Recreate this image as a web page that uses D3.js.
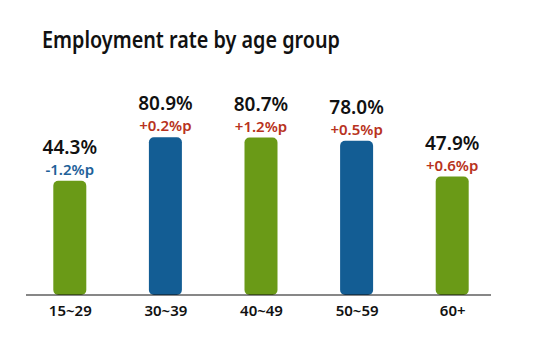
<!DOCTYPE html>
<html><head><meta charset="utf-8">
<script src="https://cdn.jsdelivr.net/npm/d3@7"></script>
<style>body{margin:0;background:#fff}svg{display:block}</style>
</head><body>
<svg id="c" width="540" height="350"></svg>
<script>
const categories = ["15~29", "30~39", "40~49", "50~59", "60+"];
const rates = [44.3, 80.9, 80.7, 78.0, 47.9];
const changes = ["-1.2%p", "+0.2%p", "+1.2%p", "+0.5%p", "+0.6%p"];
const changeSign = [-1, 1, 1, 1, 1];
const barColors = ["#6a9a17", "#135d94", "#6a9a17", "#135d94", "#6a9a17"];

const svg = d3.select("#c");
const font = "'Noto Sans', sans-serif";
const baseY = 295;

svg.append("text").attr("x", 42).attr("y", 48)
  .attr("font-family", font).attr("font-weight", 600).attr("font-size", 24)
  .attr("textLength", 298).attr("lengthAdjust", "spacingAndGlyphs")
  .attr("fill", "#111").text("Employment rate by age group");

const x = d3.scalePoint().domain(categories).range([22, 500]).padding(0.5);
const y = d3.scaleLinear().domain([-51.6, 80.9]).range([baseY, baseY - 157.7]);
const bw = 33;

const g = svg.append("g");
g.selectAll("rect").data(rates).join("rect")
  .attr("x", (d, i) => x(categories[i]) - bw / 2)
  .attr("y", d => y(d))
  .attr("width", bw)
  .attr("height", d => baseY - y(d))
  .attr("rx", 5)
  .attr("fill", (d, i) => barColors[i]);

g.selectAll("text.v").data(rates).join("text").attr("class", "v")
  .attr("x", (d, i) => x(categories[i]))
  .attr("y", d => y(d) - 27)
  .attr("text-anchor", "middle")
  .attr("font-family", font).attr("font-weight", 600).attr("font-size", 19)
  .attr("fill", "#111").text(d => d.toFixed(1) + "%");

g.selectAll("text.c").data(rates).join("text").attr("class", "c")
  .attr("x", (d, i) => x(categories[i]))
  .attr("y", d => y(d) - 6)
  .attr("text-anchor", "middle")
  .attr("font-family", font).attr("font-weight", 600).attr("font-size", 15)
  .attr("fill", (d, i) => changeSign[i] < 0 ? "#1e6199" : "#b83220")
  .text((d, i) => changes[i]);

const axis = d3.axisBottom(x).tickSize(0).tickPadding(10);
const ax = svg.append("g").attr("transform", `translate(0,${baseY})`).call(axis);
ax.select(".domain").attr("d", "M26,0H491").attr("stroke", "#111").attr("stroke-width", 1.2);
ax.selectAll("text").attr("font-family", font).attr("font-weight", 600)
  .attr("font-size", 15).attr("fill", "#111");
</script>
</body></html>
